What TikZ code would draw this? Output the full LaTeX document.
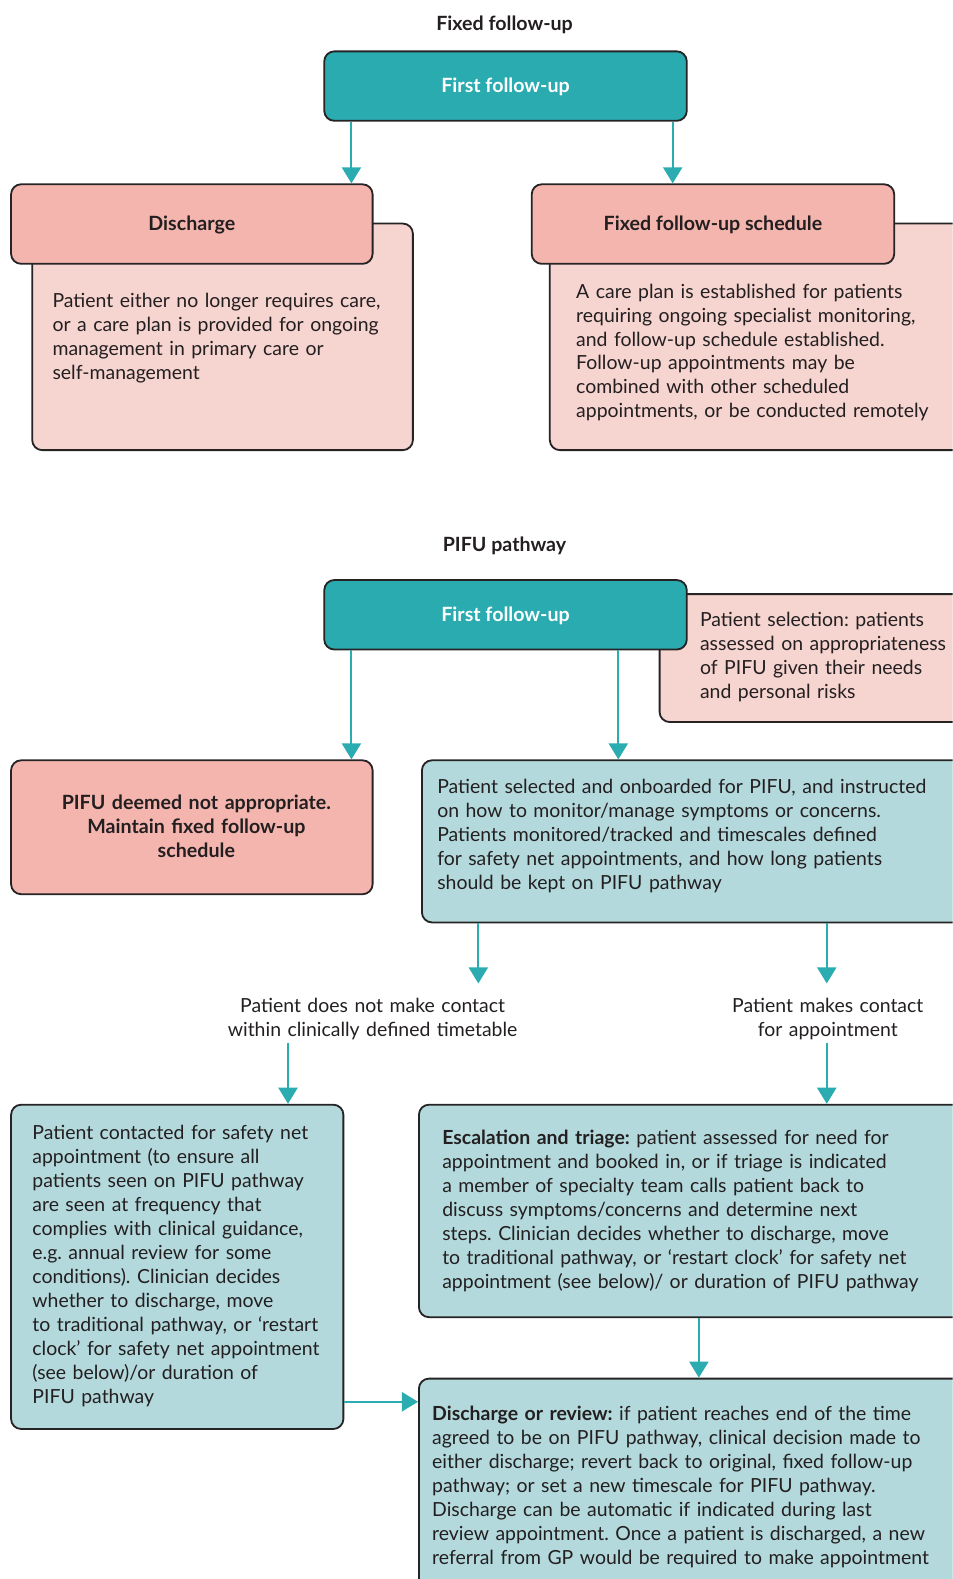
\documentclass[tikz,border=0pt]{standalone}
\usepackage{fontspec}
\setmainfont{Lato}
\usepackage{tikz}
\usetikzlibrary{arrows.meta,positioning}
\definecolor{tealfill}{HTML}{29ABB0}
\definecolor{tealline}{HTML}{2AACB1}
\definecolor{pinkhead}{HTML}{F4B5AF}
\definecolor{pinkbody}{HTML}{F6D4D0}
\definecolor{bluebody}{HTML}{B3D9DC}
\definecolor{edgegray}{HTML}{262324}
\definecolor{ink}{HTML}{231F20}
\frenchspacing

\begin{document}
\begin{tikzpicture}[>={Triangle[length=16bp,width=19bp]},x=1bp,y=-1bp,
  box/.style={draw=edgegray,line width=1.8bp,rounded corners=10bp,inner sep=0pt},
  tealbox/.style={box,fill=tealfill,text=white,text height=15bp,text depth=2bp,font=\fontsize{19.5bp}{23.8bp}\selectfont\bfseries},
  headbox/.style={box,fill=pinkhead,text=ink,text height=15bp,text depth=2bp,font=\fontsize{19.5bp}{23.8bp}\selectfont\bfseries},
  pinkbox/.style={box,fill=pinkbody},
  bluebox/.style={box,fill=bluebody},
  txt/.style={text=ink,font=\fontsize{19.3bp}{23.8bp}\selectfont,align=left,text width=560bp,inner sep=0pt,anchor=base west},
  lbl/.style={txt,align=center,text width=420bp,anchor=base},
  title/.style={text=ink,font=\fontsize{19.5bp}{23.8bp}\selectfont\bfseries,inner sep=0pt},
  arr/.style={draw=tealline,line width=2bp,->}]
\useasboundingbox (0,0) rectangle (946,1568);
\clip (0,0) rectangle (946,1568);

\node[title] (t1) at (501,24.5) {Fixed follow-up};
\node[tealbox,minimum width=360bp,minimum height=69bp] (ff1) at (502,85.5) {First follow-up};
\node[pinkbox,minimum width=378bp,minimum height=225bp] (dbody) at (221,334.5) {};
\node[pinkbox,minimum width=454bp,minimum height=225bp] (sbody) at (773,334.5) {};
\node[headbox,minimum width=359bp,minimum height=79bp] (dhead) at (190.5,222.5) {Discharge};
\node[headbox,minimum width=360bp,minimum height=79bp] (shead) at (708,222.5) {Fixed follow-up schedule};
\node[txt] (dtxt) at (52,305) {Patient either no longer requires care,\\ or a care plan is provided for ongoing\\ management in primary care or\\ self-management};
\node[txt] (stxt) at (572,296) {A care plan is established for patients\\ requiring ongoing specialist monitoring,\\ and follow-up schedule established.\\ Follow-up appointments may be\\ combined with other scheduled\\ appointments, or be conducted remotely};
\coordinate (c1) at (349,0);
\coordinate (c2) at (668,0);
\draw[arr] (ff1.south -| c1) -- (dhead.north -| c1);
\draw[arr] (ff1.south -| c2) -- (shead.north -| c2);

\node[title] (t2) at (501,542.5) {PIFU pathway};
\node[pinkbox,minimum width=345bp,minimum height=127bp] (sel) at (827.5,653.5) {};
\node[tealbox,minimum width=360bp,minimum height=69bp] (ff2) at (502,610.5) {First follow-up};
\node[txt] (seltxt) at (695,622) {Patient selection: patients\\ assessed on appropriateness\\ of PIFU given their needs\\ and personal risks};
\node[headbox,minimum width=359bp,minimum height=133bp] (notapp) at (190.5,821.5) {};
\node[lbl,text width=340bp,font=\fontsize{19.5bp}{23.8bp}\selectfont\bfseries] (natxt) at (195,804) {PIFU deemed not appropriate.\\ Maintain fixed follow-up\\ schedule};
\node[bluebox,minimum width=581bp,minimum height=161bp] (onb) at (709.5,835.5) {};
\node[txt] (onbtxt) at (434,788) {Patient selected and onboarded for PIFU, and instructed\\ on how to monitor/manage symptoms or concerns.\\ Patients monitored/tracked and timescales defined\\ for safety net appointments, and how long patients\\ should be kept on PIFU pathway};
\coordinate (c3) at (349,0);
\coordinate (c4) at (614,0);
\draw[arr] (ff2.south -| c3) -- (notapp.north -| c3);
\draw[arr] (ff2.south -| c4) -- (onb.north -| c4);

\node[lbl] (nocontact) at (370,1005) {Patient does not make contact\\ within clinically defined timetable};
\node[lbl] (makes) at (822,1005) {Patient makes contact\\ for appointment};
\coordinate (c5) at (475,0);
\coordinate (c6) at (821,0);
\draw[arr,shorten >=14bp] (onb.south -| c5) -- (nocontact.north -| c5);
\draw[arr,shorten >=14bp] (onb.south -| c6) -- (makes.north -| c6);

\node[bluebox,minimum width=330bp,minimum height=322bp] (contact) at (176,1258) {};
\node[txt] (contxt) at (32,1131.5) {Patient contacted for safety net\\ appointment (to ensure all\\ patients seen on PIFU pathway\\ are seen at frequency that\\ complies with clinical guidance,\\ e.g. annual review for some\\ conditions). Clinician decides\\ whether to discharge, move\\ to traditional pathway, or ‘restart\\ clock’ for safety net appointment\\ (see below)/or duration of\\ PIFU pathway};
\node[bluebox,minimum width=584bp,minimum height=211bp] (escal) at (708,1202.5) {};
\node[txt] (esctxt) at (439,1136.5) {\textbf{Escalation and triage:} patient assessed for need for\\ appointment and booked in, or if triage is indicated\\ a member of specialty team calls patient back to\\ discuss symptoms/concerns and determine next\\ steps. Clinician decides whether to discharge, move\\ to traditional pathway, or ‘restart clock’ for safety net\\ appointment (see below)/ or duration of PIFU pathway};
\coordinate (c7) at (286,0);
\draw[arr,shorten <=3bp] (nocontact.south -| c7) -- (contact.north -| c7);
\draw[arr,shorten <=3bp] (makes.south -| c6) -- (escal.north -| c6);

\node[bluebox,minimum width=584bp,minimum height=231bp] (review) at (708,1484.5) {};
\node[txt] (revtxt) at (429,1410.5) {\textbf{Discharge or review:} if patient reaches end of the time\\ agreed to be on PIFU pathway, clinical decision made to\\ either discharge; revert back to original, fixed follow-up\\ pathway; or set a new timescale for PIFU pathway.\\ Discharge can be automatic if indicated during last\\ review appointment. Once a patient is discharged, a new\\ referral from GP would be required to make appointment};
\coordinate (c8) at (694,0);
\coordinate (r1) at (0,1392);
\draw[arr] (escal.south -| c8) -- (review.north -| c8);
\draw[arr] (contact.east |- r1) -- (review.west |- r1);
\end{tikzpicture}
\end{document}
